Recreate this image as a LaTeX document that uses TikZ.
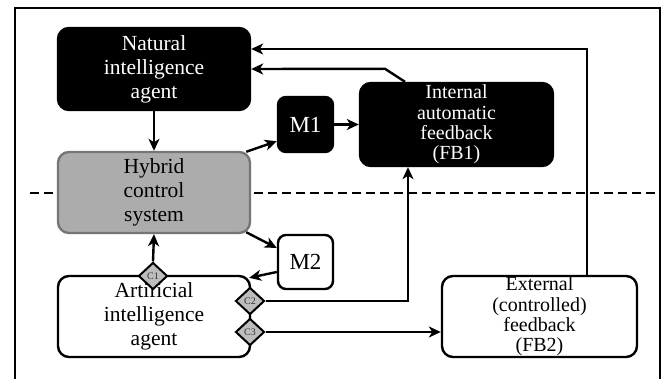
\documentclass[tikz,border=0pt]{standalone}
\usepackage{fontspec}
\setmainfont{Liberation Serif}
\usetikzlibrary{shapes.geometric,arrows.meta}
\definecolor{hybfill}{HTML}{ACACAC}
\definecolor{hybdraw}{HTML}{767676}
\definecolor{dmdfill}{HTML}{BDBDBD}
\tikzset{
  box/.style={rounded corners=11pt,line width=2.4pt,align=center,inner sep=0pt},
  blackbox/.style={box,fill=black,draw=black,text=white},
  whitebox/.style={box,fill=white,draw=black},
  bigtxt/.style={font=\fontsize{21.5}{24}\selectfont},
  fbtxt/.style={font=\fontsize{20}{20.3}\selectfont},
  mtxt/.style={font=\fontsize{23}{24}\selectfont},
  dmd/.style={diamond,draw=black,fill=dmdfill,line width=2pt,minimum width=29pt,minimum height=27pt,inner sep=0pt,text=black!80,font=\fontsize{10}{10}\selectfont},
  arr/.style={line width=2.4pt,-{Stealth[length=12pt,width=11pt,inset=3.5pt]}}
}
\begin{document}
\begin{tikzpicture}[x=1pt,y=-1pt]
\useasboundingbox (0,0) rectangle (670,379);
\fill[white] (0,0) rectangle (670,379);
% frame
\draw[line width=2.6pt] (15,381) -- (15,8) -- (660,8) -- (660,381);
% dashed separator
\draw[line width=2.2pt,dash pattern=on 9pt off 5pt] (30,193) -- (657,193);
% nodes
\node[blackbox,bigtxt,minimum width=192pt,minimum height=82pt] (nia) at (154,69) {Natural\\intelligence\\agent};
\node[box,bigtxt,fill=hybfill,draw=hybdraw,minimum width=192pt,minimum height=81pt] (hyb) at (154,192.5) {Hybrid\\control\\system};
\node[whitebox,bigtxt,minimum width=192pt,minimum height=81pt] (ai) at (154,316.5) {Artificial\\intelligence\\agent};
\node[blackbox,mtxt,rounded corners=8pt,minimum width=55pt,minimum height=55pt] (m1) at (305.5,124.5) {M1};
\node[whitebox,mtxt,rounded corners=8pt,minimum width=55pt,minimum height=54pt] (m2) at (305.5,262) {M2};
\node[blackbox,fbtxt,minimum width=193pt,minimum height=83pt] (fb1) at (456.5,124.5) {Internal\\automatic\\feedback\\(FB1)};
\node[whitebox,fbtxt,minimum width=195pt,minimum height=81pt] (fb2) at (539.5,316.5) {External\\(controlled)\\feedback\\(FB2)};
\node[dmd] (c1) at (153,276) {C1};
\node[dmd] (c2) at (250,301) {C2};
\node[dmd] (c3) at (250,332) {C3};
% connectors
\draw[arr] (nia) -- (hyb);
\draw[arr] ([xshift=-5pt,yshift=-1pt]hyb.north east) -- ([yshift=12pt]m1.south west);
\draw[arr] (m1.east) -- (fb1.west);
\draw[arr] ([xshift=-51.5pt]fb1.north) -- ([xshift=-71.5pt,yshift=13pt]fb1.north) -- (nia.east);
\draw[arr] ([xshift=47.5pt]fb2.north) |- ([yshift=20pt]nia.east);
\draw[arr] (c2.east) -| ([xshift=-48.5pt]fb1.south);
\draw[arr] (c3.east) -- (c3.east -| fb2.west);
\draw[arr] (c1.north) -- (hyb.south);
\draw[arr] ([xshift=-5pt,yshift=2pt]hyb.south east) -- ([yshift=14pt]m2.west);
\draw[arr] ([yshift=-10pt]m2.west) -- ([xshift=-2pt,yshift=-3pt]ai.north east);
\end{tikzpicture}
\end{document}
